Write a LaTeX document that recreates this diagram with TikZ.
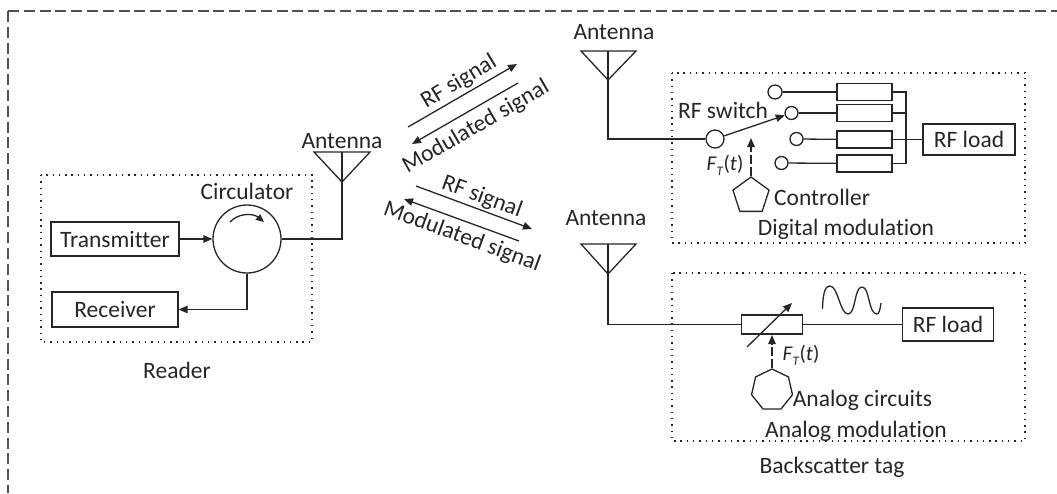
\documentclass[tikz,border=0pt]{standalone}
\usepackage{fontspec}
\setmainfont[Ligatures=NoCommon]{Carlito}
\usetikzlibrary{arrows.meta,shapes.geometric}
\definecolor{ink}{HTML}{262626}
\tikzset{
  wire/.style={draw=ink,line width=1.3pt},
  arr/.style={wire,-{Triangle[length=9pt,width=7.5pt]}},
  dasharr/.style={wire,dash pattern=on 9pt off 3pt,-{Triangle[length=9pt,width=7.5pt]}},
  box/.style={draw=ink,line width=1.3pt,fill=white,inner sep=0pt,text=ink},
  dotbox/.style={draw=ink,line width=1.3pt,dash pattern=on 1.4pt off 4.9pt},
  outer/.style={draw=ink!80,line width=1.2pt,dash pattern=on 11pt off 4.8pt},
  port/.style={circle,draw=ink,line width=1.3pt,inner sep=0pt,fill=white},
  lbl/.style={text=ink,font=\fontsize{23.5}{26}\selectfont,inner sep=0pt},
  ftlbl/.style={text=ink,font=\fontsize{21}{24}\selectfont,inner sep=0pt},
  tri/.style={draw=ink,line width=1.3pt},
  poly/.style={regular polygon,draw=ink,line width=1.3pt,inner sep=0pt}
}
\newcommand{\ftlabel}{\textit{F}\raisebox{-5pt}{\fontsize{13}{13}\selectfont\textit{T}}(\textit{t})}
\begin{document}
\begin{tikzpicture}[x=1pt,y=-1pt]
\useasboundingbox (0,0) rectangle (1057,493);
% outer dashed frame: open at the bottom and on the right
\coordinate (fc) at (8,11);
\coordinate (fb) at (8,493);
\coordinate (fr) at (1057,11);
\draw[outer] (fc) -- (fb);
\draw[outer] (fc) -- (fr);
% dotted frames
\draw[dotbox] (41,175) rectangle (312,342);
\draw[dotbox] (672,73) rectangle (1025,243);
\draw[dotbox] (672,273) rectangle (1025,441);
% reader
\node[box,minimum width=128pt,minimum height=34pt,font=\fontsize{23.5}{26}\selectfont] (tx) at (115,239) {Transmitter};
\node[box,minimum width=126pt,minimum height=35pt,font=\fontsize{23.5}{26}\selectfont] (rx) at (115,309.5) {Receiver};
\node[port,minimum size=68pt] (circ) at (247,239) {};
\node[lbl] (circl) at (247,191) {Circulator};
\draw[draw=ink,line width=1.3pt,-{Triangle[length=8pt,width=7pt]}] (230,222) .. controls (238,213) and (253,213) .. (264,222);
\coordinate (a1tip) at (342,182);
\coordinate (a1top) at (342,152);
\draw[tri] (314,152) -- (370,152) -- (a1tip) -- cycle;
\draw[wire] (a1top) -- (a1tip);
\node[lbl] (a1l) at (342,141) {Antenna};
\coordinate (a1b) at (342,239);
\draw[wire] (circ.east) -- (a1b) -- (a1tip);
\draw[arr] (tx.east) -- (circ.west);
\coordinate (rxc) at (247,309.5);
\draw[arr] (circ.south) -- (rxc) -- (rx.east);
\node[lbl] (readl) at (177,370) {Reader};
% top antenna
\coordinate (a2tip) at (608,80);
\coordinate (a2top) at (608,51);
\draw[tri] (581,51) -- (636,51) -- (a2tip) -- cycle;
\draw[wire] (a2top) -- (a2tip);
\node[lbl] (a2l) at (614,32) {Antenna};
% second antenna
\coordinate (a3tip) at (608,274);
\coordinate (a3top) at (608,244);
\draw[tri] (581,244) -- (636,244) -- (a3tip) -- cycle;
\draw[wire] (a3top) -- (a3tip);
\node[lbl] (a3l) at (606,218) {Antenna};
% signals
\coordinate (s1a) at (408,127);\coordinate (s1b) at (517,64);
\draw[arr] (s1a) -- (s1b);
\coordinate (s2a) at (518,83);\coordinate (s2b) at (412,144);
\draw[arr] (s2a) -- (s2b);
\coordinate (s3a) at (416,186);\coordinate (s3b) at (532,229);
\draw[arr] (s3a) -- (s3b);
\coordinate (s4a) at (519,241);\coordinate (s4b) at (404,199);
\draw[arr] (s4a) -- (s4b);
\node[lbl,rotate=31] (t1) at (459,82) {RF signal};
\node[lbl,rotate=30] (t2) at (476,127) {Modulated signal};
\node[lbl,rotate=-20] (t3) at (482,197) {RF signal};
\node[lbl,rotate=-20] (t4) at (462,237) {Modulated signal};
% digital
\node[port,minimum size=18pt] (sw) at (715,139) {};
\coordinate (a2b) at (608,139);
\draw[wire] (a2tip) -- (a2b) -- (sw.west);
\node[port,minimum size=14pt] (p1) at (775,92) {};
\node[port,minimum size=13pt] (p2) at (791.5,113) {};
\node[port,minimum size=13pt] (p3) at (796.5,139) {};
\node[port,minimum size=13pt] (p4) at (781.5,163) {};
\node[box,minimum width=55pt,minimum height=17pt] (r1) at (864.5,92) {};
\node[box,minimum width=55pt,minimum height=17pt] (r2) at (864.5,113) {};
\node[box,minimum width=55pt,minimum height=17pt] (r3) at (864.5,139.5) {};
\node[box,minimum width=55pt,minimum height=17pt] (r4) at (864.5,163.5) {};
\draw[wire] (p1) -- (r1);\draw[wire] (p2) -- (r2);\draw[wire] (p3) -- (r3);\draw[wire] (p4) -- (r4);
\coordinate (bt) at (906,92);\coordinate (bb) at (906,163.5);\coordinate (bm) at (906,113);
\draw[wire] (r1.east) -- (bt) -- (bb) -- (r4.east);
\draw[wire] (r2.east) -- (bm);
\node[box,minimum width=92pt,minimum height=31pt,font=\fontsize{23.5}{26}\selectfont] (load1) at (969,139.5) {RF load};
\draw[wire] (r3.east) -- (load1.west);
\draw[arr] (sw) -- (p2);
\node[lbl] (swl) at (723,110) {RF switch};
\node[poly,regular polygon sides=5,minimum size=38pt] (ctrl) at (751,196) {};
\coordinate (ctrlt) at (751,138);
\draw[dasharr] (ctrl.corner 1) -- (ctrlt);
\node[lbl,anchor=west] (ctrll) at (774,197) {Controller};
\node[ftlbl] (ft1) at (725,165) {\ftlabel};
\node[lbl] (dml) at (846,229) {Digital modulation};
% analog
\node[box,minimum width=61pt,minimum height=19pt] (var) at (772,324.5) {};
\coordinate (a3b) at (608,324.5);
\draw[wire] (a3tip) -- (a3b) -- (var.west);
\node[box,minimum width=91pt,minimum height=33pt,font=\fontsize{23.5}{26}\selectfont] (load2) at (948,324.5) {RF load};
\draw[wire] (var.east) -- (load2.west);
\coordinate (v1) at (747,347);\coordinate (v2) at (792,303);
\draw[arr] (v1) -- (v2);
\draw[draw=ink,line width=1.3pt] (822.5,309) .. controls (823,290) and (826,286) .. (830,286) .. controls (838,286) and (840,314) .. (848,314) .. controls (856,314) and (854,287) .. (862,287) .. controls (870,287) and (868,314) .. (877,314) .. controls (879,314) and (880,310) .. (881,303);
\node[poly,regular polygon sides=7,minimum size=42pt] (ana) at (772,390) {};
\coordinate (anat) at (772,335);
\draw[dasharr] (ana.corner 1) -- (anat);
\node[ftlbl] (ft2) at (801,355) {\ftlabel};
\node[lbl] (acl) at (862.5,400) {Analog circuits};
\node[lbl] (aml) at (856,431) {Analog modulation};
\node[lbl] (btl) at (832,467) {Backscatter tag};
\end{tikzpicture}
\end{document}
